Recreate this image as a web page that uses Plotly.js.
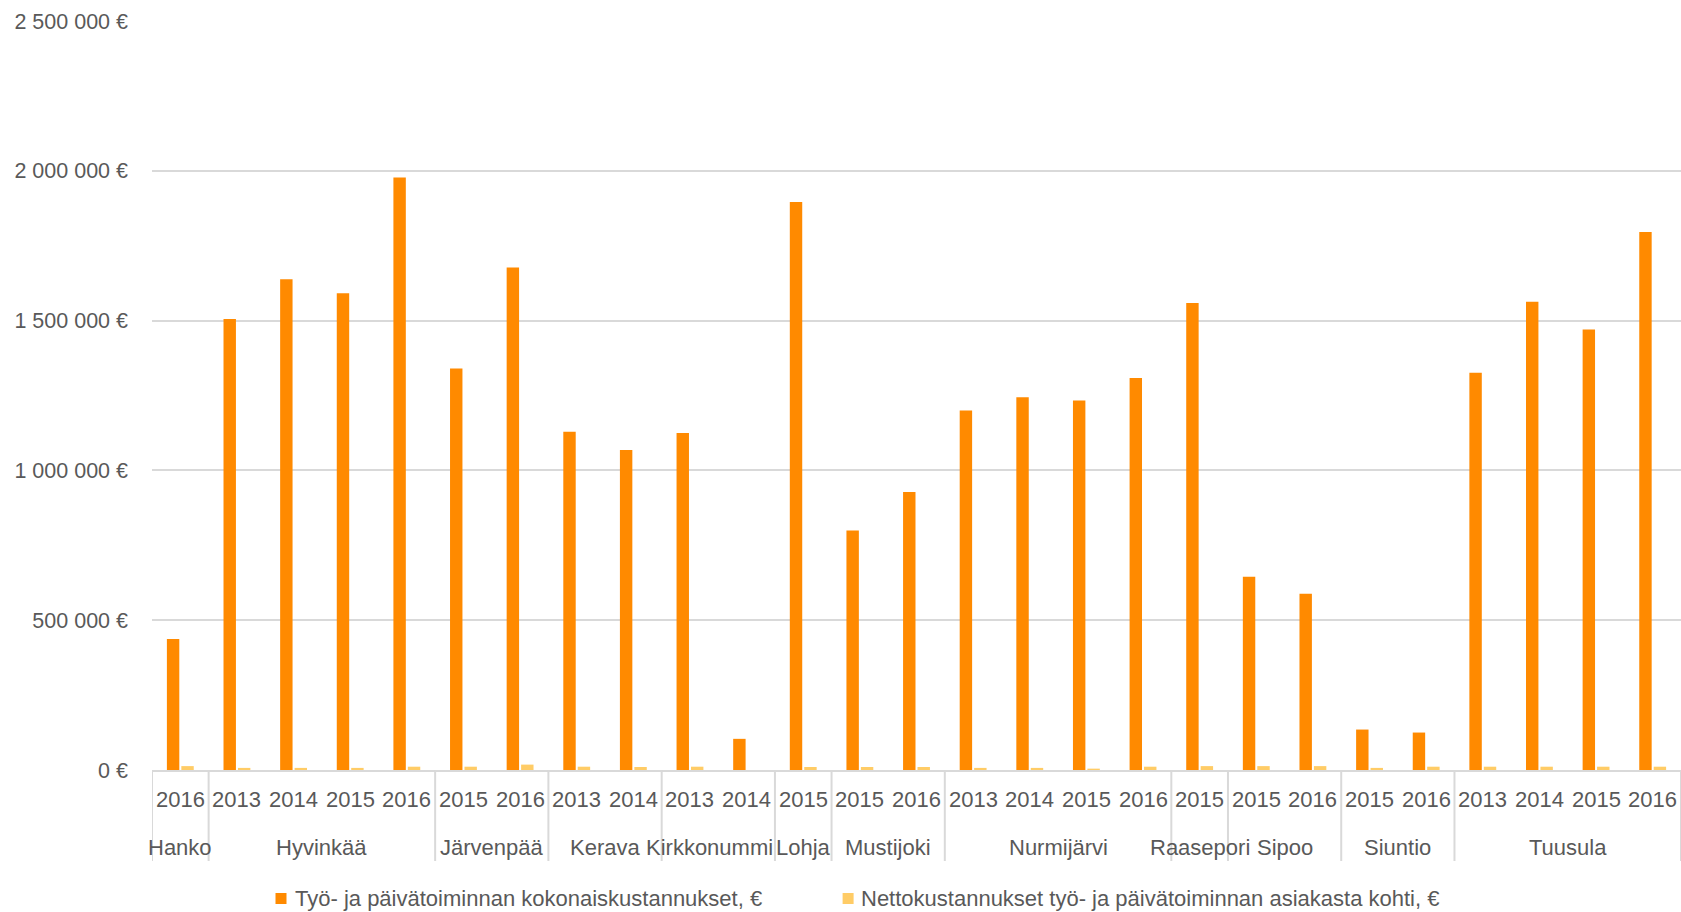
<!DOCTYPE html>
<html>
<head>
<meta charset="utf-8">
<script src="https://cdn.plot.ly/plotly-3.0.1.min.js"></script>
<style>html,body{margin:0;padding:0;background:#fff;}#chart{width:1681px;height:912px;}</style>
</head>
<body>
<div id="chart"></div>
<script>
const municipalities = ["Hanko","Hyvinkää","Hyvinkää","Hyvinkää","Hyvinkää","Järvenpää","Järvenpää","Kerava","Kerava","Kirkkonummi","Kirkkonummi","Lohja","Mustijoki","Mustijoki","Nurmijärvi","Nurmijärvi","Nurmijärvi","Nurmijärvi","Raasepori","Sipoo","Sipoo","Siuntio","Siuntio","Tuusula","Tuusula","Tuusula","Tuusula"];
const years = ["2016","2013","2014","2015","2016","2015","2016","2013","2014","2013","2014","2015","2015","2016","2013","2014","2015","2016","2015","2015","2016","2015","2016","2013","2014","2015","2016"];
const totalCosts = [437000,1505000,1638000,1591000,1978000,1340000,1677000,1129000,1068000,1125000,104000,1896000,799000,928000,1200000,1244000,1233000,1308000,1559000,645000,588000,135000,125000,1326000,1563000,1470000,1796000];
const netPerClient = [13000,7000,7000,7000,11000,11000,18000,11000,10000,11000,null,10000,10000,10000,7000,7000,4500,11000,13000,13000,13000,7000,11000,11000,11000,11000,11000];
const seriesNames = ["Työ- ja päivätoiminnan kokonaiskustannukset, €","Nettokustannukset työ- ja päivätoiminnan asiakasta kohti, €"];
const seriesColors = ["#FF8A00", "#FFCC66"];

const FAMILY = "Liberation Sans, Arial, sans-serif";
const FONT = {family: FAMILY, size: 22, color: "#595959"};
const GRID = "#d9d9d9";
const W = 1681, H = 912, ML = 152, MR = 0, MT = 21, MB = 142;
const plotW = W - ML - MR, plotH = H - MT - MB;

// category index positions on a linear axis
const idx = years.map((_, i) => i);

// contiguous municipality groups
const groups = [];
municipalities.forEach((m, i) => {
  const g = groups[groups.length - 1];
  if (g && g.name === m) g.end = i; else groups.push({name: m, start: i, end: i});
});

// measure group labels so that neighbouring labels do not run into each other
const ctx = document.createElement("canvas").getContext("2d");
ctx.font = FONT.size + "px " + FAMILY;
const catW = plotW / years.length;
groups.forEach(g => {
  g.center = (g.start + g.end) / 2;
  g.w = ctx.measureText(g.name).width;
  g.shift = 0;
});
for (let k = 1; k < groups.length; k++) {
  const a = groups[k - 1], b = groups[k];
  const aRight = (a.center + 0.5) * catW + a.w / 2 + a.shift;
  const bLeft = (b.center + 0.5) * catW - b.w / 2 + b.shift;
  const overlap = aRight - bLeft + 3;
  if (overlap > 0) {
    if (a.w >= b.w) a.shift -= overlap; else b.shift += overlap;
  }
}

const annotations = [];
years.forEach((yr, i) => {
  annotations.push({x: idx[i], xref: "x", y: -0.04, yref: "paper", text: yr, showarrow: false,
    xanchor: "center", yanchor: "middle", font: FONT});
});
groups.forEach(g => {
  annotations.push({x: g.center, xref: "x", y: -0.103, yref: "paper", text: g.name,
    showarrow: false, xanchor: "center", yanchor: "middle", xshift: g.shift, font: FONT});
});

const shapes = [];
groups.forEach(g => {
  shapes.push({type: "line", xref: "x", yref: "paper", x0: g.start - 0.5, x1: g.start - 0.5,
    y0: 0, y1: -0.1215, line: {color: GRID, width: 2}});
});
shapes.push({type: "line", xref: "x", yref: "paper", x0: years.length - 0.5, x1: years.length - 0.5,
  y0: 0, y1: -0.1215, line: {color: GRID, width: 2}});

// legend drawn below the plot (pixel positions converted to paper coordinates)
const legendY = -(898.5 - (H - MB)) / plotH;
const legendItems = [{sq: 275.5, tx: 292.7}, {sq: 842.6, tx: 858.7}];
legendItems.forEach((it, k) => {
  shapes.push({type: "rect", xref: "paper", yref: "paper", xsizemode: "pixel", ysizemode: "pixel",
    xanchor: (it.sq - ML) / plotW, yanchor: legendY, x0: 0, x1: 11, y0: -5.5, y1: 5.5,
    fillcolor: seriesColors[k], line: {width: 0}});
  annotations.push({xref: "paper", yref: "paper", x: (it.tx - ML) / plotW, y: legendY,
    text: seriesNames[k], showarrow: false, xanchor: "left", yanchor: "middle", font: FONT});
});

const traces = [
  {type: "bar", name: seriesNames[0], x: idx, y: totalCosts,
   marker: {color: seriesColors[0], line: {width: 0}}},
  {type: "bar", name: seriesNames[1], x: idx, y: netPerClient,
   marker: {color: seriesColors[1], line: {width: 0}}}
];

const layout = {
  width: W, height: H,
  margin: {l: ML, r: MR, t: MT, b: MB, pad: 0},
  paper_bgcolor: "#fff", plot_bgcolor: "#fff",
  font: FONT,
  separators: ", ",
  barmode: "group",
  bargap: 0.49,
  bargroupgap: 0.14,
  showlegend: false,
  xaxis: {range: [-0.5, years.length - 0.5], showgrid: false, showline: true, linecolor: GRID, linewidth: 2,
          showticklabels: false, ticks: "", zeroline: false, fixedrange: true, automargin: false},
  yaxis: {range: [0, 2500000], dtick: 500000, tick0: 0, tickformat: ",.0f", ticksuffix: " €",
          showgrid: true, gridcolor: GRID, gridwidth: 2, zeroline: false,
          showline: false, ticks: "", tickfont: {family: FAMILY, size: 21.5, color: FONT.color},
          ticklabelstandoff: 23, automargin: false},
  annotations: annotations,
  shapes: shapes
};

Plotly.newPlot("chart", traces, layout, {displayModeBar: false, staticPlot: true});
</script>
</body>
</html>
